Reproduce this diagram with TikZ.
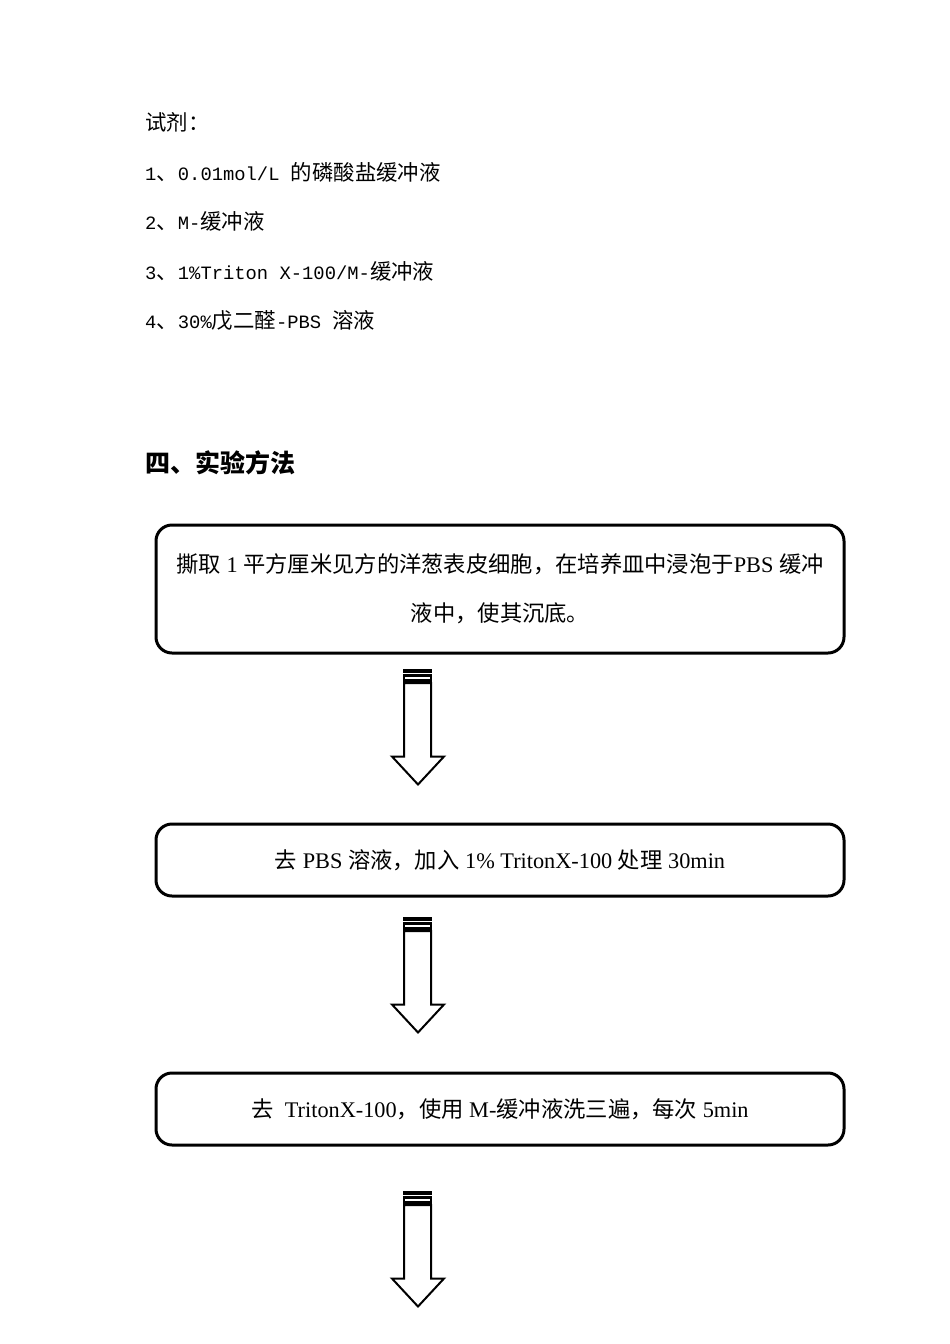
\documentclass[tikz,border=0pt]{standalone}
\usepackage{fontspec}
\setmainfont{Liberation Serif}
\newfontfamily\cjk{Noto Sans CJK SC}
\newfontfamily\monofam{Liberation Mono}[Scale=0.88]
\usetikzlibrary{positioning}
\newcommand{\zh}[1]{{\cjk #1}}
\newcommand{\lm}[1]{{\monofam #1}}

\begin{document}
\begin{tikzpicture}[x=1pt,y=-1pt,
    reagent/.style={anchor=west,inner sep=0pt,font=\fontsize{21.4}{25}\selectfont},
    heading/.style={anchor=west,inner sep=0pt,font=\fontsize{25}{29}\selectfont\bfseries},
    stepbox/.style={draw,line width=3pt,rounded corners=16pt,minimum width=688pt,
      align=center,font=\fontsize{22.3}{49}\selectfont},
    stripedarrow/.pic={
      \fill (-15,0) rectangle (14,4);
      \draw[line width=2.2pt] (-14,7) rectangle (13,12);
      \draw[line width=2pt,line join=miter,fill=white]
        (-14,14.5) -- (-14,88) -- (-26,88) -- (0,116) -- (26,88) -- (13,88) -- (13,14.5) -- cycle;
    }]
  \useasboundingbox (0,0) rectangle (950,1344);
  % Reagents
  \node[reagent] (title) at (145,122) {\zh{试剂：}};
  \node[reagent] (r1) at (145,172) {\lm{1}\zh{、}\lm{0.01mol/L }\zh{的磷酸盐缓冲液}};
  \node[reagent] (r2) at (145,221) {\lm{2}\zh{、}\lm{M-}\zh{缓冲液}};
  \node[reagent] (r3) at (145,271) {\lm{3}\zh{、}\lm{1\%Triton X-100/M-}\zh{缓冲液}};
  \node[reagent] (r4) at (145,320) {\lm{4}\zh{、}\lm{30\%}\zh{戊二醛}\lm{-PBS }\zh{溶液}};
  % Method
  \node[heading] (method) at (145,463) {\zh{\bfseries 四、实验方法}};
  % Steps
  \node[stepbox,minimum height=128pt] (step1) at (500,589)
    {\zh{撕取} 1 \zh{平方厘米见方的洋葱表皮细胞，在培养皿中浸泡于}PBS \zh{缓冲}\\\zh{液中，使其沉底。}};
  \node[stepbox,minimum height=72pt] (step2) at (500,860)
    {\zh{去} PBS \zh{溶液，加入} 1\% TritonX-100 \zh{处理} 30min};
  \node[stepbox,minimum height=72pt] (step3) at (500,1109)
    {\zh{去}\ \ TritonX-100\zh{，使用} M-\zh{缓冲液洗三遍，每次} 5min};
  % Arrows
  \pic (arrA) at ([xshift=-82pt,yshift=-14pt]step1.south) {stripedarrow};
  \pic (arrB) at ([xshift=-82pt,yshift=-19pt]step2.south) {stripedarrow};
  \pic (arrC) at ([xshift=-82pt,yshift=-44pt]step3.south) {stripedarrow};
\end{tikzpicture}
\end{document}
